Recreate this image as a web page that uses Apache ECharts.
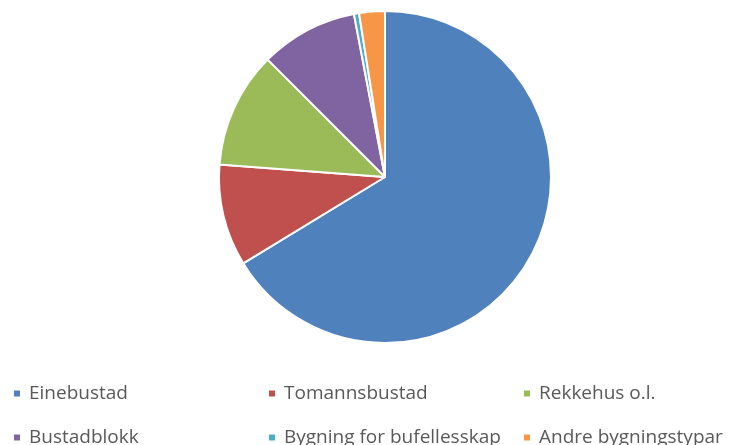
<!DOCTYPE html>
<html>
<head>
<meta charset="utf-8">
<script src="https://cdn.jsdelivr.net/npm/echarts@6/dist/echarts.min.js"></script>
<style>
html,body{margin:0;padding:0;background:#fff;}
#chart{width:737px;height:445px;}
</style>
</head>
<body>
<div id="chart"></div>
<script>
const categories = ["Einebustad", "Tomannsbustad", "Rekkehus o.l.", "Bustadblokk", "Bygning for bufellesskap", "Andre bygningstypar"];
const values = [66.3, 9.9, 11.3, 9.5, 0.5, 2.5];
const colors = ["#4F81BD", "#C0504D", "#9BBB59", "#8064A2", "#4BACC6", "#F79646"];

const legendPos = [
  {left: 12, top: 384}, {left: 267, top: 384}, {left: 522, top: 384},
  {left: 12, top: 428}, {left: 267, top: 428}, {left: 522, top: 428}
];

const chart = echarts.init(document.getElementById('chart'), null, {renderer: 'canvas'});
chart.setOption({
  animation: false,
  backgroundColor: '#ffffff',
  color: colors,
  legend: categories.map((c, i) => ({
    data: [c],
    left: legendPos[i].left,
    top: legendPos[i].top,
    icon: 'rect',
    itemWidth: 8,
    itemHeight: 8,
    itemGap: 0,
    padding: 0,
    selectedMode: false,
    textStyle: {color: '#595959', fontSize: 19, fontFamily: 'Open Sans', padding: [0, 0, 0, 3]}
  })),
  series: [{
    type: 'pie',
    center: [385, 177],
    radius: 166,
    startAngle: 90,
    clockwise: true,
    label: {show: false},
    labelLine: {show: false},
    silent: true,
    itemStyle: {borderColor: '#ffffff', borderWidth: 2},
    data: categories.map((c, i) => ({name: c, value: values[i]}))
  }]
});
</script>
</body>
</html>
